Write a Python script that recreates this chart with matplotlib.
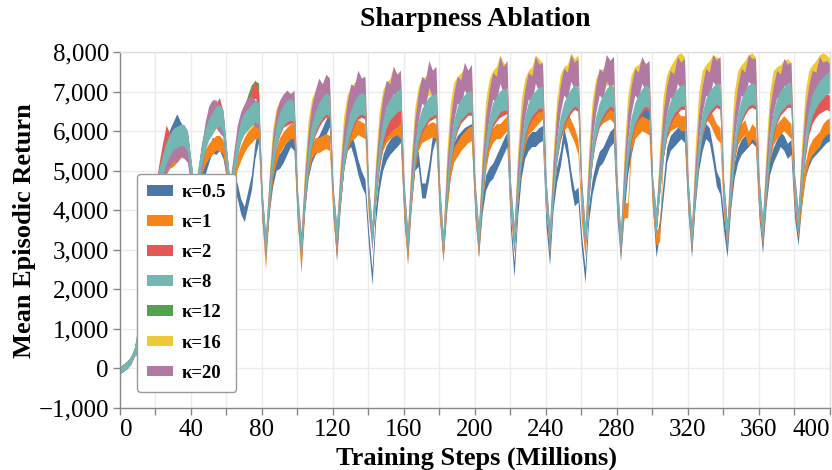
import numpy as np
import matplotlib
matplotlib.use("Agg")
import matplotlib.pyplot as plt
from matplotlib.ticker import FixedLocator, FuncFormatter

plt.rcParams['font.family'] = ['Liberation Serif', 'DejaVu Serif']

# ---------------- data ----------------
steps = list(range(0, 401, 2))  # Training steps (millions)

labels = ["κ=0.5", "κ=1", "κ=2", "κ=8", "κ=12", "κ=16", "κ=20"]
colors = ["#4c78a8", "#f58518", "#e45756", "#72b7b2", "#54a24b", "#eeca3b", "#b279a2"]
half_width = [190, 190, 200, 270, 220, 280, 340]
early_half_width = 90      # bands are thin during the first ~10M steps
early_steps_end = 10

k05 = [
    -40, 20, 90, 200, 400, 700, 1200, 2000, 2900, 3700,
    4400, 4900, 5300, 5600, 5850, 6050, 6250, 6050, 5900, 5700,
    5000, 4200, 4600, 4900, 5100, 5400, 5650, 5600, 5700, 5500,
    5000, 4300, 4700, 4500, 4100, 3900, 4300, 4700, 5500, 5900,
    4000, 3000, 4100, 4800, 5200, 5250, 5400, 5600, 5800, 5700,
    3800, 2900, 4200, 5000, 5400, 5600, 5700, 5900, 6100, 6300,
    4100, 2900, 4200, 5200, 5700, 5800, 5500, 5100, 4800, 4600,
    3300, 2300, 3900, 4700, 5200, 5450, 5600, 5700, 5800, 5900,
    3900, 2900, 4300, 5200, 5300, 4500, 4500, 5000, 5700, 6000,
    4000, 2900, 4200, 5000, 5500, 5700, 5800, 5900, 5950, 6000,
    4000, 3000, 4100, 4700, 4900, 5000, 5200, 5400, 5600, 5800,
    3700, 2500, 4000, 5000, 5500, 5700, 5800, 5800, 5900, 5950,
    3800, 2800, 4200, 4900, 5300, 5900, 5500, 4800, 4300, 4400,
    3200, 2350, 3900, 4600, 5000, 5300, 5400, 5600, 5800, 5900,
    4000, 2900, 4100, 5100, 5600, 6000, 6200, 6300, 6400, 6500,
    4300, 3000, 3600, 4500, 5400, 5700, 5800, 5900, 6000, 5900,
    4100, 3000, 4300, 5200, 5700, 6000, 5900, 5400, 4800, 4600,
    3700, 3000, 4200, 5000, 5400, 5600, 5700, 5800, 5900, 5800,
    4000, 3100, 4300, 5100, 5400, 5600, 5800, 5700, 5500, 5600,
    4000, 3300, 4300, 5000, 5300, 5500, 5600, 5700, 5800, 5900,
    5950,
]

k1 = [
    -40, 20, 90, 200, 400, 700, 1200, 2000, 2900, 3700,
    4200, 4600, 4900, 5100, 5250, 5300, 5400, 5500, 5600, 5500,
    4900, 4200, 4600, 5100, 5350, 5500, 5600, 5700, 5700, 5600,
    5000, 4300, 4800, 5200, 5450, 5650, 5800, 5900, 6000, 6000,
    3900, 2700, 4100, 5000, 5400, 5650, 5800, 5900, 6000, 6000,
    3900, 2600, 4100, 5100, 5500, 5650, 5650, 5700, 5750, 5700,
    4000, 3000, 4300, 5200, 5700, 5950, 6000, 6100, 6050, 6000,
    4000, 3300, 4400, 5300, 5700, 5900, 6000, 6050, 6100, 6000,
    4000, 2800, 4200, 5200, 5700, 5900, 5950, 6000, 6050, 6000,
    4000, 2900, 4100, 5000, 5400, 5550, 5700, 5800, 5900, 5950,
    4100, 3000, 4300, 5200, 5700, 5900, 6000, 6000, 6100, 6200,
    4100, 3100, 4400, 5300, 5800, 6100, 6200, 6300, 6400, 6500,
    4300, 3100, 4500, 5500, 5950, 6200, 6300, 6100, 5900, 5600,
    3900, 3000, 4400, 5500, 6000, 6300, 6400, 6450, 6500, 6400,
    4300, 3200, 4000, 4000, 5700, 6000, 6100, 6200, 6150, 6100,
    4200, 3300, 3400, 5500, 6000, 6200, 6250, 6300, 6200, 6200,
    4200, 3200, 4400, 5500, 6100, 6500, 6400, 6200, 6000, 5900,
    4100, 3300, 4300, 5400, 5850, 6000, 6100, 5800, 6000, 5900,
    4100, 3300, 4400, 5400, 5850, 6000, 6100, 6200, 6100, 6000,
    4200, 3500, 4300, 5000, 5400, 5600, 5700, 5800, 6000, 6100,
    6150,
]

k2 = [
    -40, 20, 90, 200, 400, 700, 1200, 2000, 2900, 3700,
    4400, 5000, 5500, 5950, 5750, 5850, 5800, 5800, 5900, 5750,
    5000, 4300, 4800, 5500, 5900, 6150, 6350, 6500, 6650, 6300,
    5300, 4400, 5000, 5600, 6000, 6300, 6550, 6850, 7100, 6800,
    4200, 3000, 4200, 5200, 5800, 6100, 6300, 6350, 6400, 6400,
    4100, 2900, 4200, 5200, 5800, 6100, 6300, 6450, 6550, 6500,
    4200, 3300, 4300, 5200, 5800, 6100, 6350, 6500, 6550, 6500,
    4300, 3400, 4400, 5200, 5800, 6050, 6150, 6250, 6300, 6400,
    4300, 3100, 4300, 5300, 5850, 6150, 6300, 6450, 6500, 6550,
    4300, 3000, 4300, 5300, 5850, 6200, 6400, 6500, 6600, 6600,
    4300, 3200, 4400, 5400, 5950, 6300, 6450, 6550, 6600, 6650,
    4300, 3200, 4400, 5400, 5950, 6300, 6500, 6600, 6700, 6700,
    4400, 3200, 4400, 5400, 5950, 6300, 6500, 6650, 6750, 6700,
    4400, 3200, 4400, 5400, 5950, 6300, 6500, 6650, 6750, 6700,
    4400, 3100, 4400, 5400, 5950, 6300, 6500, 6650, 6750, 6700,
    4400, 3600, 4600, 5500, 6050, 6350, 6550, 6650, 6750, 6750,
    4400, 3200, 4400, 5400, 6050, 6400, 6600, 6700, 6800, 6750,
    4400, 3300, 4400, 5400, 6050, 6400, 6600, 6750, 6800, 6750,
    4400, 3400, 4500, 5500, 6050, 6400, 6600, 6700, 6800, 6800,
    4500, 3600, 4700, 5500, 6100, 6400, 6550, 6650, 6700, 6750,
    6700,
]

k8 = [
    -40, 20, 90, 200, 400, 700, 1200, 2000, 2900, 3700,
    4300, 4800, 5150, 5450, 5650, 5800, 5850, 5900, 5900, 5750,
    5000, 4300, 4800, 5400, 5800, 6050, 6200, 6350, 6400, 6250,
    5300, 4400, 5000, 5600, 6000, 6200, 6300, 6400, 6500, 6450,
    4300, 3100, 4300, 5300, 5900, 6200, 6400, 6500, 6550, 6500,
    4200, 3000, 4300, 5300, 5900, 6250, 6450, 6600, 6700, 6650,
    4300, 3400, 4400, 5300, 5900, 6250, 6500, 6650, 6700, 6650,
    4400, 3400, 4500, 5400, 6000, 6350, 6550, 6650, 6750, 6800,
    4400, 3200, 4400, 5400, 6000, 6300, 6450, 6600, 6650, 6700,
    4400, 3100, 4400, 5400, 6000, 6350, 6550, 6650, 6750, 6750,
    4400, 3300, 4500, 5500, 6100, 6450, 6600, 6750, 6800, 6800,
    4400, 3300, 4500, 5500, 6100, 6450, 6650, 6750, 6850, 6850,
    4500, 3300, 4500, 5500, 6100, 6450, 6650, 6800, 6900, 6850,
    4500, 3300, 4500, 5500, 6100, 6450, 6650, 6800, 6900, 6850,
    4500, 3200, 4500, 5500, 6100, 6450, 6650, 6800, 6900, 6850,
    4600, 3700, 4700, 5600, 6200, 6500, 6700, 6800, 6900, 6900,
    4500, 3300, 4500, 5500, 6200, 6550, 6750, 6850, 6950, 6900,
    4500, 3400, 4500, 5500, 6200, 6550, 6750, 6900, 6950, 6900,
    4500, 3500, 4600, 5600, 6200, 6550, 6750, 6850, 6950, 6950,
    4600, 3700, 4800, 5700, 6300, 6650, 6850, 7000, 7100, 7200,
    7250,
]

k12 = [
    -40, 20, 90, 200, 400, 700, 1200, 2000, 2900, 3700,
    4300, 4800, 5150, 5450, 5650, 5800, 5850, 5950, 5900, 5750,
    5000, 4300, 4800, 5400, 5800, 6050, 6200, 6300, 6350, 6200,
    5300, 4400, 5000, 5650, 6100, 6400, 6700, 6950, 7050, 7000,
    4250, 3050, 4250, 5250, 5850, 6150, 6350, 6450, 6500, 6450,
    4150, 2950, 4250, 5250, 5850, 6200, 6400, 6550, 6650, 6600,
    4250, 3350, 4350, 5250, 5850, 6200, 6450, 6600, 6650, 6600,
    4350, 3350, 4450, 5350, 5950, 6300, 6500, 6600, 6700, 6750,
    4350, 3150, 4350, 5350, 5950, 6250, 6400, 6550, 6600, 6650,
    4350, 3050, 4350, 5350, 5950, 6300, 6500, 6600, 6700, 6700,
    4350, 3250, 4450, 5450, 6050, 6400, 6550, 6700, 6750, 6750,
    4350, 3250, 4450, 5450, 6050, 6400, 6600, 6700, 6800, 6800,
    4450, 3250, 4450, 5450, 6050, 6400, 6600, 6750, 6850, 6800,
    4450, 3250, 4450, 5450, 6050, 6400, 6600, 6750, 6850, 6800,
    4450, 3150, 4450, 5450, 6050, 6400, 6600, 6750, 6850, 6800,
    4550, 3650, 4650, 5550, 6150, 6450, 6650, 6750, 6850, 6850,
    4450, 3250, 4450, 5450, 6150, 6500, 6700, 6800, 6900, 6850,
    4450, 3350, 4450, 5450, 6150, 6500, 6700, 6850, 6900, 6850,
    4450, 3450, 4550, 5550, 6150, 6500, 6700, 6800, 6900, 6900,
    4550, 3650, 4750, 5650, 6250, 6600, 6800, 6950, 7050, 7150,
    7200,
]

k16 = [
    -40, 20, 90, 200, 400, 700, 1200, 2000, 2900, 3700,
    4200, 4700, 5050, 5350, 5550, 5650, 5700, 5750, 5700, 5600,
    4900, 4200, 4800, 5400, 5850, 6100, 6200, 6350, 6250, 6150,
    5200, 4400, 5100, 5700, 6050, 6200, 6300, 6400, 6400, 6450,
    4100, 2900, 4600, 5800, 6300, 6500, 6600, 6650, 6700, 6550,
    4100, 3000, 4800, 6000, 6550, 6750, 6850, 6950, 6900, 6850,
    4200, 3300, 4900, 6100, 6650, 6850, 6950, 7050, 7000, 6950,
    4200, 3300, 5000, 6200, 6750, 6950, 7050, 7350, 7150, 7050,
    4300, 3100, 5000, 6300, 6850, 7050, 7100, 7200, 7150, 7050,
    4300, 3000, 5100, 6400, 6950, 7100, 7200, 7300, 7250, 7150,
    4300, 3200, 5200, 6500, 7050, 7250, 7350, 7650, 7450, 7350,
    4300, 3200, 5200, 6500, 7050, 7250, 7350, 7650, 7550, 7450,
    4400, 3200, 5200, 6500, 7150, 7350, 7400, 7700, 7550, 7650,
    4400, 3200, 5200, 6500, 7050, 7250, 7300, 7450, 7400, 7350,
    4400, 3100, 5200, 6600, 7150, 7350, 7400, 7550, 7450, 7400,
    4400, 3600, 5300, 6600, 7150, 7350, 7500, 7650, 7700, 7600,
    4400, 3200, 5300, 6700, 7250, 7400, 7500, 7650, 7600, 7550,
    4400, 3300, 5300, 6700, 7250, 7400, 7500, 7650, 7700, 7600,
    4400, 3400, 5300, 6700, 7250, 7350, 7400, 7500, 7550, 7450,
    4500, 3600, 5400, 6700, 7250, 7400, 7500, 7650, 7700, 7650,
    7550,
]

k20 = [
    -40, 20, 90, 200, 400, 700, 1200, 2000, 2900, 3700,
    4100, 4600, 4950, 5250, 5450, 5600, 5550, 5700, 5650, 5550,
    4900, 4200, 4700, 5300, 5900, 6300, 6450, 6450, 6300, 6200,
    5200, 4400, 5100, 5800, 6150, 6350, 6500, 6550, 6450, 6400,
    4100, 3100, 4400, 5500, 6150, 6450, 6600, 6700, 6600, 6700,
    4200, 3100, 4500, 5600, 6300, 6700, 7000, 6850, 7100, 7000,
    4300, 3300, 4600, 5700, 6400, 6850, 6800, 7200, 7000, 7050,
    4300, 3300, 4700, 5800, 6500, 6950, 6850, 7300, 7100, 7200,
    4400, 3200, 4700, 5900, 6600, 7050, 6950, 7450, 7200, 7300,
    4400, 3100, 4700, 5900, 6600, 7050, 6950, 7400, 7200, 7350,
    4400, 3300, 4800, 6000, 6700, 7150, 7050, 7550, 7300, 7450,
    4400, 3300, 4800, 6000, 6700, 7150, 7050, 7550, 7350, 7400,
    4500, 3300, 4800, 6100, 6800, 7250, 7150, 7600, 7400, 7500,
    4500, 3300, 4800, 6100, 6800, 7250, 7150, 7600, 7450, 7550,
    4500, 3200, 4800, 6100, 6800, 7250, 7150, 7550, 7350, 7450,
    4500, 3700, 4900, 6100, 6800, 7200, 7100, 7550, 7400, 7500,
    4500, 3300, 4800, 6100, 6800, 7250, 7150, 7600, 7450, 7550,
    4500, 3400, 4800, 6100, 6800, 7250, 7150, 7600, 7500, 7500,
    4500, 3500, 4900, 6200, 6800, 7200, 7100, 7500, 7350, 7400,
    4600, 3700, 5000, 6200, 6800, 7200, 7150, 7550, 7400, 7450,
    7350,
]

series = [k05, k1, k2, k8, k12, k16, k20]
# drawing order follows the string sort of the kappa labels
draw_order = ["κ=0.5", "κ=1", "κ=12", "κ=16", "κ=2", "κ=20", "κ=8"]

x_ticks = list(range(0, 401, 20))
x_tick_labels = [str(t) if t % 40 == 0 else "" for t in x_ticks]
y_ticks = list(range(-1000, 8001, 1000))

# ---------------- figure ----------------
W, H = 832, 470
fig = plt.figure(figsize=(W / 100, H / 100), dpi=100)
ax = fig.add_axes([120 / W, 1 - 408 / H, 710 / W, 356 / H])

steps_arr = np.array(steps, dtype=float)
handles = {}
for name in draw_order:
    i = labels.index(name)
    m = np.array(series[i], dtype=float)
    hw = np.where(steps_arr < early_steps_end, early_half_width, half_width[i])
    h = ax.fill_between(steps_arr, m - hw, m + hw, color=colors[i], linewidth=0,
                        label=name, zorder=2)
    handles[name] = h

ax.set_xlim(0, 400)
ax.set_ylim(-1000, 8000)

ax.xaxis.set_major_locator(FixedLocator(x_ticks))
ax.set_xticklabels(x_tick_labels)
ax.yaxis.set_major_locator(FixedLocator(y_ticks))
ax.yaxis.set_major_formatter(FuncFormatter(lambda v, p: f"{int(v):,}".replace("-", "\u2212")))

ax.grid(True, color="#ececec", linewidth=1, zorder=0)
ax.set_axisbelow(True)
for s in ["left", "bottom"]:
    ax.spines[s].set_color("#888888")
    ax.spines[s].set_linewidth(1)
for s in ["top", "right"]:
    ax.spines[s].set_color("#dddddd")
    ax.spines[s].set_linewidth(1)

ax.tick_params(axis="both", which="major", length=5, width=1, color="#888888",
               labelsize=18, labelcolor="#000000", pad=3)
xl = ax.get_xticklabels()
xl[0].set_horizontalalignment("left")
xl[-1].set_horizontalalignment("right")

fig.text(475 / W, 1 - 20 / H, "Sharpness Ablation", ha="center", va="center",
         fontsize=20, fontweight="bold")
fig.text(25 / W, 1 - 231 / H, "Mean Episodic Return", ha="center", va="center",
         rotation=90, fontsize=19, fontweight="bold")
fig.text(476 / W, 1 - 458 / H, "Training Steps (Millions)", ha="center", va="center",
         fontsize=19, fontweight="bold")

leg = ax.legend([handles[n] for n in labels], labels, loc="lower left",
                bbox_to_anchor=(17 / 710, 16 / 356), borderaxespad=0,
                prop={"weight": "bold", "size": 13.5}, handlelength=1.35,
                handleheight=0.5, handletextpad=0.48, labelspacing=0.7,
                borderpad=0.55, frameon=True, fancybox=True, framealpha=1,
                edgecolor="#999999", facecolor="white")
leg.get_frame().set_linewidth(1)
leg.set_zorder(5)

fig.savefig("out.png", dpi=100)
